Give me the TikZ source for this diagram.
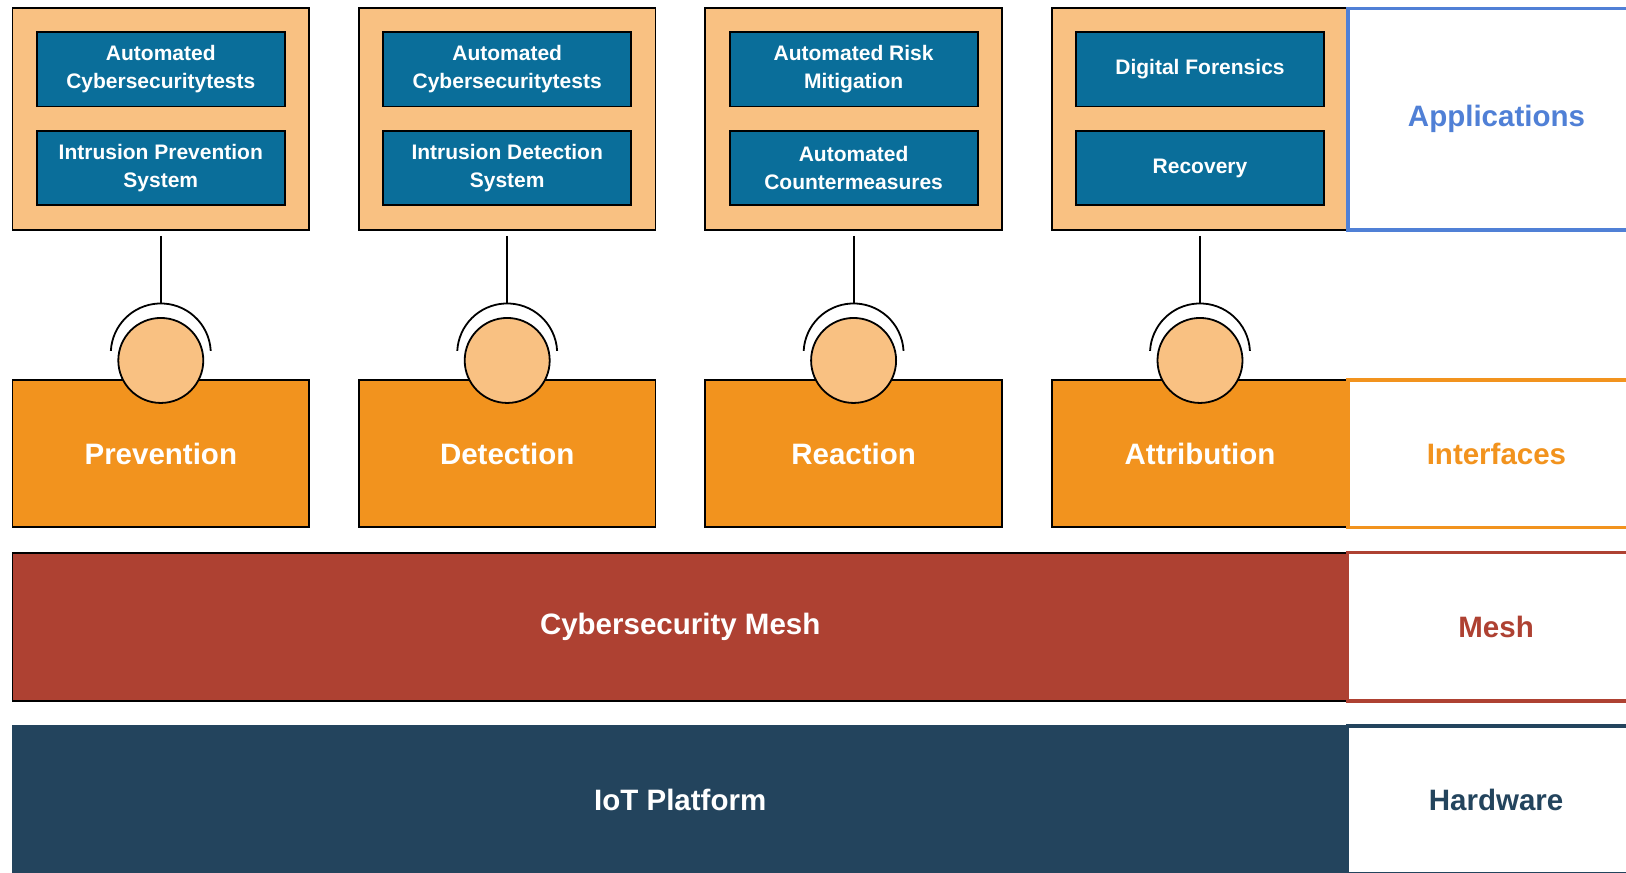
\documentclass[tikz,border=0pt]{standalone}
\usepackage{fontspec}
\setmainfont{Liberation Sans}
\usetikzlibrary{positioning}

\definecolor{paleorange}{HTML}{F9C182}
\definecolor{appblue}{HTML}{0A6E9A}
\definecolor{ifaceorange}{HTML}{F2931E}
\definecolor{meshred}{HTML}{AE4132}
\definecolor{hwnavy}{HTML}{23445D}
\definecolor{labelblue}{HTML}{5080D6}

\tikzset{
  appbox/.style={draw, line width=1.8pt, fill=paleorange, minimum width=296.6pt, minimum height=221.7pt},
  funcbox/.style={draw, line width=1.8pt, fill=appblue, text=white, align=center,
    font=\fontsize{21}{27.5}\selectfont\bfseries, minimum width=248pt, minimum height=74.5pt, inner sep=0pt},
  ifacebox/.style={draw, line width=1.8pt, fill=ifaceorange, text=white,
    font=\fontsize{29.5}{34}\selectfont\bfseries, minimum width=296.6pt, minimum height=147.5pt},
  ball/.style={draw, circle, line width=1.8pt, fill=paleorange, minimum size=85pt, inner sep=0pt},
  socket/.style={line width=1.8pt},
  layerbox/.style={line width=1.8pt, text=white, font=\fontsize{29.5}{34}\selectfont\bfseries,
    minimum width=1335.5pt, minimum height=148.3pt},
  tagbox/.style={draw=#1, text=#1, line width=3.5pt, fill=white, font=\fontsize{29.5}{34}\selectfont\bfseries,
    minimum width=297pt}
}

\begin{document}
\begin{tikzpicture}[x=1pt, y=-1pt]
  \clip (0,0) rectangle (1626,873);

  % application boxes
  \node[appbox] (prevapp) at (160.8,119.2) {};
  \node[appbox, right=48pt of prevapp] (detapp) {};
  \node[appbox, right=48pt of detapp] (reactapp) {};
  \node[appbox, right=48pt of reactapp] (attrapp) {};

  \node[funcbox, below=23.7pt of prevapp.north] (prevapp1) {Automated\\Cybersecuritytests};
  \node[funcbox, below=22.5pt of prevapp1] (prevapp2) {Intrusion Prevention\\System};
  \node[funcbox, below=23.7pt of detapp.north] (detapp1) {Automated\\Cybersecuritytests};
  \node[funcbox, below=22.5pt of detapp1] (detapp2) {Intrusion Detection\\System};
  \node[funcbox, below=23.7pt of reactapp.north] (reactapp1) {Automated Risk\\Mitigation};
  \node[funcbox, below=22.5pt of reactapp1] (reactapp2) {Automated\\Countermeasures};
  \node[funcbox, below=23.7pt of attrapp.north] (attrapp1) {Digital Forensics};
  \node[funcbox, below=22.5pt of attrapp1] (attrapp2) {Recovery};

  % interfaces
  \node[ifacebox, below=148pt of prevapp] (prev) {Prevention};
  \node[ifacebox, below=148pt of detapp] (det) {Detection};
  \node[ifacebox, below=148pt of reactapp] (react) {Reaction};
  \node[ifacebox, below=148pt of attrapp] (attr) {Attribution};

  \node[ball] (prevball) at ([yshift=18.5pt]prev.north) {};
  \node[ball] (detball) at ([yshift=18.5pt]det.north) {};
  \node[ball] (reactball) at ([yshift=18.5pt]react.north) {};
  \node[ball] (attrball) at ([yshift=18.5pt]attr.north) {};

  \coordinate (prevsock) at ([yshift=57pt]prevball.center);
  \coordinate (detsock) at ([yshift=57pt]detball.center);
  \coordinate (reactsock) at ([yshift=57pt]reactball.center);
  \coordinate (attrsock) at ([yshift=57pt]attrball.center);

  \draw[socket] ([yshift=7pt]prevball.center) ++(3:50pt) arc[start angle=3, end angle=177, radius=50pt];
  \draw[socket] ([yshift=7pt]detball.center) ++(3:50pt) arc[start angle=3, end angle=177, radius=50pt];
  \draw[socket] ([yshift=7pt]reactball.center) ++(3:50pt) arc[start angle=3, end angle=177, radius=50pt];
  \draw[socket] ([yshift=7pt]attrball.center) ++(3:50pt) arc[start angle=3, end angle=177, radius=50pt];

  \draw[socket] ([yshift=-5pt]prevapp.south) -- (prevsock);
  \draw[socket] ([yshift=-5pt]detapp.south) -- (detsock);
  \draw[socket] ([yshift=-5pt]reactapp.south) -- (reactsock);
  \draw[socket] ([yshift=-5pt]attrapp.south) -- (attrsock);

  % mesh and platform
  \node[layerbox, draw, fill=meshred] (mesh) at (680.2,626.8) {Cybersecurity Mesh};
  \node[layerbox, draw=hwnavy, fill=hwnavy, below=23pt of mesh] (iot) {IoT Platform};

  % layer labels
  \node[tagbox=labelblue, minimum height=221.7pt, right=-3pt of attrapp] (apps) {Applications};
  \node[tagbox=ifaceorange, minimum height=147.5pt, right=-3pt of attr] (ifaces) {Interfaces};
  \node[tagbox=meshred, minimum height=148.3pt, right=-3pt of mesh] (meshtag) {Mesh};
  \node[tagbox=hwnavy, minimum height=148.3pt, right=-3pt of iot] (hw) {Hardware};

\end{tikzpicture}
\end{document}
